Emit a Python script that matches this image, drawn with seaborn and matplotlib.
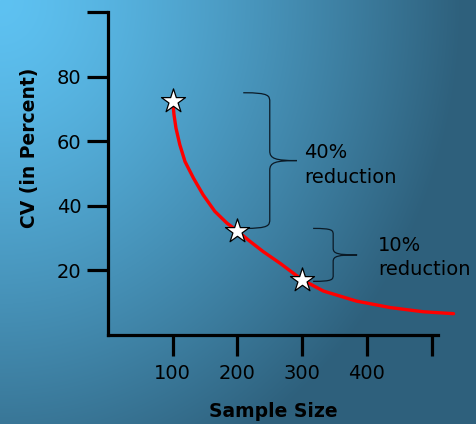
import numpy as np
import pandas as pd
import seaborn as sns
import matplotlib.pyplot as plt
from matplotlib.path import Path
from matplotlib.patches import PathPatch

# stars on the curve
sample_size = [100, 200, 300]
cv_pct = [72.5, 32.2, 17.1]

# red curve
curve_n = [100, 102, 105, 111, 119, 132, 147, 165, 184, 200, 220, 240, 266, 300,
           333, 384, 436, 487, 534]
curve_cv = [72.5, 68.2, 64.1, 58.9, 53.7, 48.6, 43.4, 38.3, 34.6, 32.2, 28.9, 25.8, 22.2, 17.1,
            13.6, 10.5, 8.5, 7.2, 6.6]

x_ticks = [100, 200, 300, 400, 500]
x_labels = ["100", "200", "300", "400", ""]
y_ticks = [20, 40, 60, 80, 100]
y_labels = ["20", "40", "60", "80", ""]

sns.set_style("ticks")
plt.rcParams['font.family'] = ['DejaVu Sans']

fig = plt.figure(figsize=(4.77, 4.24), dpi=100)

# gradient background
bg = fig.add_axes([0, 0, 1, 1], zorder=-1)
h, w = 424, 477
yy, xx = np.mgrid[0:h, 0:w]
d = np.sqrt((xx / 420.0) ** 2 + (yy / 470.0) ** 2) / 1.1
t = np.clip(d, 0, 1) ** 1.3
light = np.array([94, 194, 242]) / 255
dark = np.array([46, 96, 124]) / 255
img = light[None, None, :] * (1 - t[..., None]) + dark[None, None, :] * t[..., None]
bg.imshow(img, aspect='auto', extent=[0, 1, 0, 1])
bg.axis('off')

ax = fig.add_axes([108 / 477, 1 - 335 / 424, 330 / 477, 323 / 424])
ax.patch.set_alpha(0)

curve = pd.DataFrame({"n": curve_n, "cv": curve_cv})
pts = pd.DataFrame({"n": sample_size, "cv": cv_pct})

sns.lineplot(data=curve, x="n", y="cv", sort=False, estimator=None,
             color="#ff0000", linewidth=2.4, ax=ax)
for l in ax.lines:
    l.set_clip_on(False)
    l.set_solid_joinstyle("round")
sns.scatterplot(data=pts, x="n", y="cv", marker="*", s=330, color="white",
                edgecolor="black", linewidth=0.9, zorder=5, clip_on=False, ax=ax)

ax.set_xlim(0, 510)
ax.set_ylim(0, 100)
ax.set_xticks(x_ticks)
ax.set_xticklabels(x_labels)
ax.set_yticks(y_ticks)
ax.set_yticklabels(y_labels)
sns.despine(ax=ax)
for s in ["left", "bottom"]:
    ax.spines[s].set_linewidth(2.3)
    ax.spines[s].set_color("black")
ax.tick_params(axis="both", direction="out", length=15, width=2.3, color="black",
               labelsize=14, labelcolor="black")
ax.tick_params(axis="y", pad=4)
ax.tick_params(axis="x", pad=6)

ax.set_xlabel("Sample Size", fontsize=13.5, fontweight="bold", color="black")
ax.set_ylabel("CV (in Percent)", fontsize=13.5, fontweight="bold", color="black")
ax.xaxis.label.set_va("center")
ax.xaxis.set_label_coords(0.5, -0.238)
ax.yaxis.set_label_coords(-0.21, 0.58)


def brace(ax, x0, xv, xt, ytop, ybot, r):
    ym = (ytop + ybot) / 2
    dx = xt - xv
    verts = [(x0, ytop), (xv, ytop), (xv, ytop - 0.3 * r), (xv, ytop - r),
             (xv, ym + r),
             (xv, ym + 0.2 * r), (xv + 0.2 * dx, ym), (xt, ym),
             (xv + 0.2 * dx, ym), (xv, ym - 0.2 * r), (xv, ym - r),
             (xv, ybot + r),
             (xv, ybot + 0.3 * r), (xv, ybot), (x0, ybot)]
    codes = [Path.MOVETO, Path.CURVE4, Path.CURVE4, Path.CURVE4,
             Path.LINETO,
             Path.CURVE4, Path.CURVE4, Path.CURVE4,
             Path.CURVE4, Path.CURVE4, Path.CURVE4,
             Path.LINETO,
             Path.CURVE4, Path.CURVE4, Path.CURVE4]
    ax.add_patch(PathPatch(Path(verts, codes), fill=False, lw=0.9,
                           edgecolor="#0b1a26", clip_on=False))


brace(ax, 209, 250, 292, cv_pct[0] + 2.5, cv_pct[1] + 0.8, 3)
brace(ax, 317, 348, 385, cv_pct[1] + 0.8, cv_pct[2] - 0.5, 2)

ax.text(303, 52.5, "40%\nreduction", fontsize=14, va="center", ha="left",
        linespacing=1.4, color="black")
ax.text(417, 24, "10%\nreduction", fontsize=14, va="center", ha="left",
        linespacing=1.35, color="black", clip_on=False)

fig.savefig("out.png", dpi=100)
